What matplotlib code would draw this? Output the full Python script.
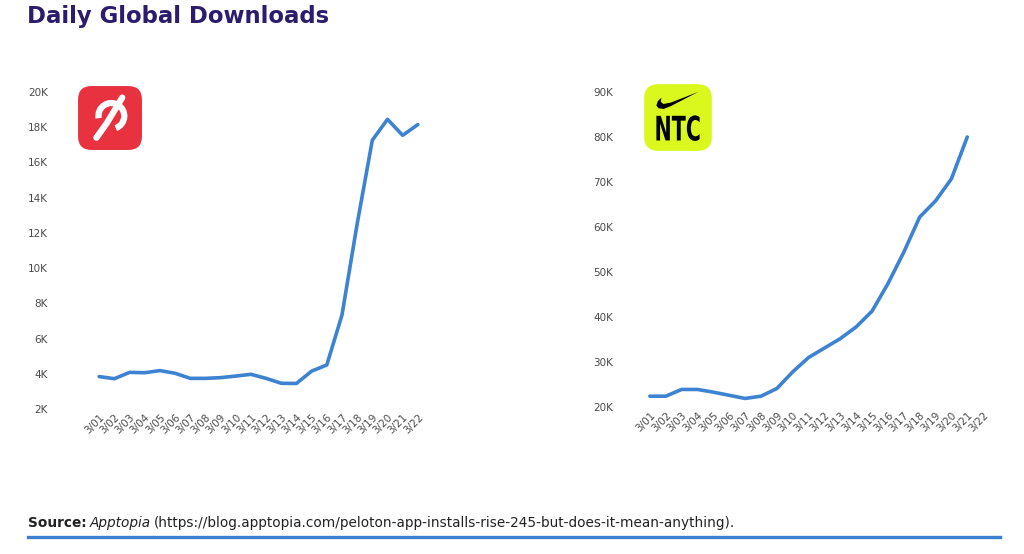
import numpy as np
import matplotlib
matplotlib.use("Agg")
import matplotlib.pyplot as plt
from matplotlib.patches import FancyBboxPatch, Arc, Polygon, PathPatch
from matplotlib.textpath import TextPath
from matplotlib.font_manager import FontProperties
from matplotlib.transforms import Affine2D, offset_copy
from matplotlib.ticker import FuncFormatter

# Data
dates = ["3/01", "3/02", "3/03", "3/04", "3/05", "3/06", "3/07", "3/08", "3/09", "3/10", "3/11",
         "3/12", "3/13", "3/14", "3/15", "3/16", "3/17", "3/18", "3/19", "3/20", "3/21", "3/22"]
peloton = [3840, 3720, 4080, 4060, 4180, 4030, 3740, 3740, 3780, 3870, 3970,
           3740, 3460, 3450, 4150, 4500, 7330, 12500, 17260, 18450, 17540, 18150]
ntc = [22400, 22400, 23900, 23900, 23300, 22600, 21900, 22400, 24100, 27800, 31000,
       33100, 35200, 37800, 41300, 47400, 54400, 62200, 65800, 70700, 80000]

LINE = "#3d83d1"
TICK = "#4a4a4a"

W, H = 1024, 554
fig = plt.figure(figsize=(W / 100, H / 100), dpi=100)


def px_box(x0, y0, x1, y1):
    # pixel box (top-left origin) -> figure fraction rect
    return [x0 / W, (H - y1) / H, (x1 - x0) / W, (y1 - y0) / H]


kfmt = FuncFormatter(lambda v, _: f"{int(v / 1000)}K")


def style_axes(ax, pad):
    for s in ax.spines.values():
        s.set_visible(False)
    ax.tick_params(length=0, colors=TICK, labelsize=7.5)
    ax.tick_params(axis="y", pad=pad)
    ax.tick_params(axis="x", pad=2)
    ax.yaxis.set_major_formatter(kfmt)
    ax.set_xticks(range(len(dates)))
    ax.set_xticklabels(dates, rotation=45, ha="right", rotation_mode="anchor")
    ax.set_xlim(-1, 22)


# Peloton chart
ax1 = fig.add_axes(px_box(84, 92, 433, 409))
ax1.plot(range(len(peloton)), peloton, color=LINE, lw=2.6, solid_joinstyle="round",
         solid_capstyle="round")
ax1.set_ylim(2000, 20000)
ax1.set_yticks(range(2000, 20001, 2000))
style_axes(ax1, 26)

# NTC chart
ax2 = fig.add_axes(px_box(634, 92, 999, 407))
ax2.plot(range(len(ntc)), ntc, color=LINE, lw=2.6, solid_joinstyle="round",
         solid_capstyle="round")
ax2.set_ylim(20000, 90000)
ax2.set_yticks(range(20000, 90001, 10000))
style_axes(ax2, 15)

# Peloton icon
ic1 = fig.add_axes(px_box(76, 84, 144, 152))
ic1.set_xlim(0, 1)
ic1.set_ylim(0, 1)
ic1.axis("off")
ic1.add_patch(FancyBboxPatch((0.03, 0.03), 0.94, 0.94,
                             boxstyle="round,pad=0,rounding_size=0.2",
                             fc="#e8323f", ec="none"))
ic1.add_patch(Arc((0.52, 0.53), 0.38, 0.38, theta1=-70, theta2=190,
                  color="white", lw=4.5))
ic1.plot([0.30, 0.45, 0.68], [0.21, 0.42, 0.80], color="white", lw=4.5,
         solid_capstyle="round")

# NTC icon
ic2 = fig.add_axes(px_box(642, 82, 714, 153))
ic2.set_xlim(0, 1)
ic2.set_ylim(0, 1)
ic2.axis("off")
ic2.add_patch(FancyBboxPatch((0.03, 0.03), 0.94, 0.94,
                             boxstyle="round,pad=0,rounding_size=0.2",
                             fc="#daf81e", ec="none"))
swoosh = [(0.78, 0.86), (0.40, 0.66), (0.30, 0.62), (0.23, 0.63), (0.20, 0.67),
          (0.22, 0.73), (0.27, 0.78), (0.26, 0.72), (0.30, 0.69), (0.40, 0.71)]
ic2.add_patch(Polygon(swoosh, closed=True, fc="black", ec="none"))
# condensed "NTC": squeeze a text path horizontally
tp = TextPath((0, 0), "NTC", size=1, prop=FontProperties(family="DejaVu Sans", weight="bold"))
bb = tp.get_extents()
sx = 0.60 / bb.width
sy = 0.36 / bb.height
tr = Affine2D().translate(-bb.x0, -bb.y0).scale(sx, sy).translate(0.20, 0.17)
ic2.add_patch(PathPatch(tr.transform_path(tp), fc="black", ec="none"))

# Title
fig.text(27 / W, 1 - 17 / H, "Daily Global Downloads", fontsize=16.4, fontweight="bold",
         color="#2d1b6e", va="center", ha="left")

# Source line, drawn in three runs
fig.canvas.draw()
r = fig.canvas.get_renderer()
fs = 9.8
t1 = fig.text(28 / W, 1 - 523 / H, "Source:", fontsize=fs, fontweight="bold",
              color="#222222", va="center")
w1 = t1.get_window_extent(r).width
t2 = fig.text(28 / W, 1 - 523 / H, "Apptopia", fontsize=fs, style="italic", color="#222222",
              va="center",
              transform=offset_copy(fig.transFigure, fig=fig, x=w1 + 3, units="dots"))
w2 = t2.get_window_extent(r).width
fig.text(28 / W, 1 - 523 / H,
         "(https://blog.apptopia.com/peloton-app-installs-rise-245-but-does-it-mean-anything).",
         fontsize=fs, color="#222222", va="center",
         transform=offset_copy(fig.transFigure, fig=fig, x=w1 + w2 + 6, units="dots"))

fig.add_artist(plt.Line2D([28 / W, 1000 / W], [1 - 537 / H, 1 - 537 / H], color="#3d7fcc",
                          lw=2.4, transform=fig.transFigure))

fig.savefig("out.png", dpi=100)
